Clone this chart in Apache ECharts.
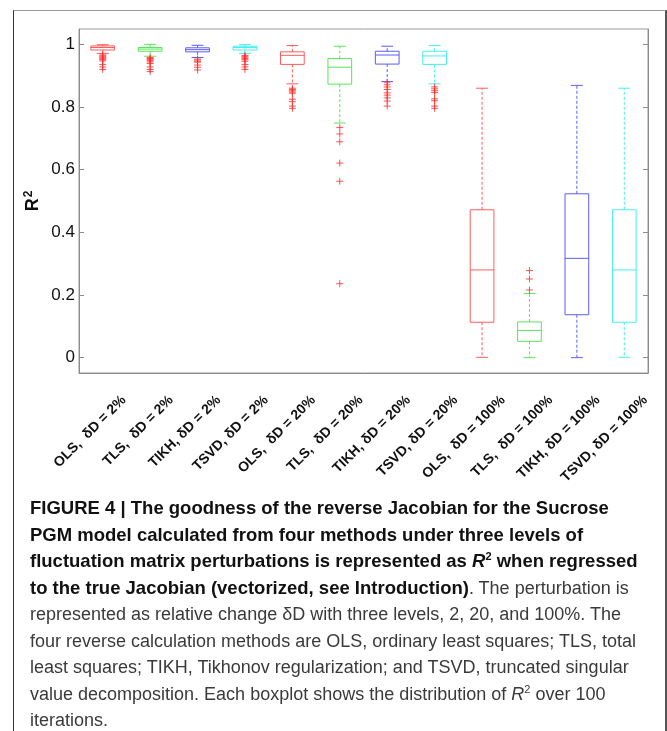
<!DOCTYPE html>
<html>
<head>
<meta charset="utf-8">
<script src="https://cdn.jsdelivr.net/npm/echarts@6/dist/echarts.min.js"></script>
<style>
  html, body { margin: 0; padding: 0; background: #fff; }
  #page { position: relative; width: 667px; height: 731px; overflow: hidden; }
  #frame {
    position: absolute; left: 13px; top: 10px; width: 651px; height: 740px;
    border-left: 1px solid #333; border-top: 1px solid #999; border-right: 2px solid #555;
  }
  #chart { position: absolute; left: 0; top: 0; width: 667px; height: 731px; }
  #caption {
    position: absolute; left: 30px; top: 495px;
    font-family: "Liberation Sans", Arial, sans-serif; font-size: 18px; line-height: 26.5px;
    color: #3a3a3a; white-space: nowrap;
  }
  #caption b { color: #111; font-size: 18.5px; }
  #caption sup { font-size: 11px; line-height: 0; }
</style>
</head>
<body>
<div id="page">
  <div id="frame"></div>
  <div id="chart"></div>
  <div id="caption">
    <b>FIGURE 4 | The goodness of the reverse Jacobian for the Sucrose</b><br>
    <b>PGM model calculated from four methods under three levels of</b><br>
    <b>fluctuation matrix perturbations is represented as <i>R</i><sup>2</sup> when regressed</b><br>
    <b>to the true Jacobian (vectorized, see Introduction)</b>. The perturbation is<br>
    represented as relative change δD with three levels, 2, 20, and 100%. The<br>
    four reverse calculation methods are OLS, ordinary least squares; TLS, total<br>
    least squares; TIKH, Tikhonov regularization; and TSVD, truncated singular<br>
    value decomposition. Each boxplot shows the distribution of <i>R</i><sup>2</sup> over 100<br>
    iterations.
  </div>
</div>
<script>
  const categories = [
    'OLS,  δD = 2%', 'TLS,  δD = 2%', 'TIKH, δD = 2%', 'TSVD, δD = 2%',
    'OLS,  δD = 20%', 'TLS,  δD = 20%', 'TIKH, δD = 20%', 'TSVD, δD = 20%',
    'OLS,  δD = 100%', 'TLS,  δD = 100%', 'TIKH, δD = 100%', 'TSVD, δD = 100%'
  ]
  const whiskerLow  = [0.971, 0.962, 0.958, 0.971, 0.874, 0.749, 0.881, 0.874, 0.001, 0.000, 0.000, 0.001]
  const q1          = [0.982, 0.978, 0.976, 0.982, 0.936, 0.873, 0.937, 0.936, 0.113, 0.052, 0.137, 0.113]
  const median      = [0.990, 0.985, 0.983, 0.990, 0.965, 0.927, 0.966, 0.963, 0.280, 0.087, 0.317, 0.280]
  const q3          = [0.995, 0.990, 0.989, 0.994, 0.976, 0.955, 0.978, 0.978, 0.472, 0.114, 0.523, 0.472]
  const whiskerHigh = [0.999, 1.000, 0.997, 0.999, 0.996, 0.994, 0.994, 0.996, 0.860, 0.205, 0.869, 0.860]
  const outliers = [
    [0.966, 0.963, 0.960, 0.957, 0.954, 0.951, 0.947, 0.936, 0.928, 0.920],
    [0.958, 0.955, 0.952, 0.948, 0.944, 0.939, 0.928, 0.920, 0.913],
    [0.953, 0.950, 0.946, 0.943, 0.934, 0.927, 0.918],
    [0.965, 0.962, 0.959, 0.955, 0.951, 0.946, 0.936, 0.928, 0.920],
    [0.860, 0.856, 0.852, 0.848, 0.844, 0.825, 0.817, 0.803, 0.796],
    [0.735, 0.714, 0.689, 0.621, 0.563, 0.236],
    [0.879, 0.871, 0.864, 0.856, 0.845, 0.838, 0.829, 0.819, 0.803],
    [0.864, 0.858, 0.852, 0.846, 0.826, 0.820, 0.803, 0.796],
    [],
    [0.278, 0.251, 0.216],
    [],
    []
  ]
  const yTicks = [0, 0.2, 0.4, 0.6, 0.8, 1]

  const methodColors = ['#ff5c5c', '#55e855', '#5c5cff', '#44f0f0']
  const fontFamily = '"Liberation Sans", Arial, Helvetica, sans-serif'

  const boxData = categories.map((c, i) => [i, whiskerLow[i], q1[i], median[i], q3[i], whiskerHigh[i]])
  const outlierData = outliers.flatMap((vals, i) => vals.map(v => [i, v]))

  const renderBox = (params, api) => {
    const i = api.value(0)
    const cx = api.coord([i, 0])[0]
    const yLow = api.coord([i, api.value(1)])[1]
    const yQ1 = api.coord([i, api.value(2)])[1]
    const yMed = api.coord([i, api.value(3)])[1]
    const yQ3 = api.coord([i, api.value(4)])[1]
    const yHigh = api.coord([i, api.value(5)])[1]
    const bw = api.size([1, 0])[0] * 0.5
    const cw = bw / 2
    const color = methodColors[i % 4]
    const solid = { stroke: color, lineWidth: 1, fill: null }
    const dashed = { stroke: color, lineWidth: 1, lineDash: [3, 2], fill: null }
    const line = (x1, y1, x2, y2, style) => ({ type: 'line', shape: { x1, y1, x2, y2 }, style })
    return {
      type: 'group',
      children: [
        line(cx, yQ3, cx, yHigh, dashed),
        line(cx, yQ1, cx, yLow, dashed),
        line(cx - cw / 2, yHigh, cx + cw / 2, yHigh, solid),
        line(cx - cw / 2, yLow, cx + cw / 2, yLow, solid),
        { type: 'rect', shape: { x: cx - bw / 2, y: yQ3, width: bw, height: yQ1 - yQ3 }, style: solid },
        line(cx - bw / 2, yMed, cx + bw / 2, yMed, solid)
      ]
    }
  }

  // rotated tick labels, placed like the matlab ones (right end a bit right of the tick)
  const renderLabel = (params, api) => {
    const i = api.value(0)
    const cx = api.coord([i, 0])[0]
    const bottom = params.coordSys.y + params.coordSys.height
    return {
      type: 'text',
      x: cx + 21,
      y: bottom + 25,
      rotation: Math.PI / 4,
      style: {
        text: categories[i],
        align: 'right',
        verticalAlign: 'middle',
        font: 'bold 14px ' + fontFamily,
        fill: '#111'
      }
    }
  }

  const chart = echarts.init(document.getElementById('chart'))
  const yBase = {
    type: 'value',
    min: -0.049,
    max: 1.049,
    splitLine: { show: false },
    axisLine: { show: true, lineStyle: { color: '#8c8c8c' } },
    axisTick: { show: true, inside: true, length: 5, customValues: yTicks, lineStyle: { color: '#8c8c8c' } }
  }
  chart.setOption({
    animation: false,
    grid: {
      left: 79, top: 29, right: 19, bottom: 358,
      show: true, borderColor: '#999', borderWidth: 1,
      outerBoundsMode: 'none'
    },
    xAxis: {
      type: 'category',
      data: categories,
      axisLine: { onZero: false, lineStyle: { color: '#8c8c8c' } },
      axisTick: { show: false },
      axisLabel: { show: false }
    },
    yAxis: [
      Object.assign({}, yBase, {
        name: '{r|R}{s|2}',
        nameLocation: 'middle',
        nameGap: 36,
        nameRotate: 90,
        nameMoveOverlap: false,
        nameTextStyle: {
          color: '#111',
          rich: {
            r: { fontSize: 18, fontWeight: 'bold', fontFamily, lineHeight: 20, color: '#111' },
            s: { fontSize: 12, fontWeight: 'bold', fontFamily, verticalAlign: 'top', lineHeight: 20, padding: [0, 0, 8, 1], color: '#111' }
          }
        },
        axisLabel: {
          customValues: yTicks,
          fontSize: 17,
          margin: 4,
          color: '#111',
          fontFamily
        }
      }),
      Object.assign({}, yBase, { position: 'right', axisLabel: { show: false } })
    ],
    series: [
      {
        type: 'custom',
        name: 'box',
        renderItem: renderBox,
        data: boxData,
        encode: { x: 0, y: [1, 2, 3, 4, 5] },
        silent: true
      },
      {
        type: 'scatter',
        name: 'outliers',
        data: outlierData,
        symbol: 'path://M0,5L10,5M5,0L5,10',
        symbolSize: 7,
        itemStyle: { color: 'none', borderColor: '#ff2a2a', borderWidth: 1 },
        silent: true
      },
      {
        type: 'custom',
        name: 'labels',
        renderItem: renderLabel,
        data: categories.map((c, i) => [i, 0]),
        clip: false,
        silent: true
      }
    ]
  })
</script>
</body>
</html>
